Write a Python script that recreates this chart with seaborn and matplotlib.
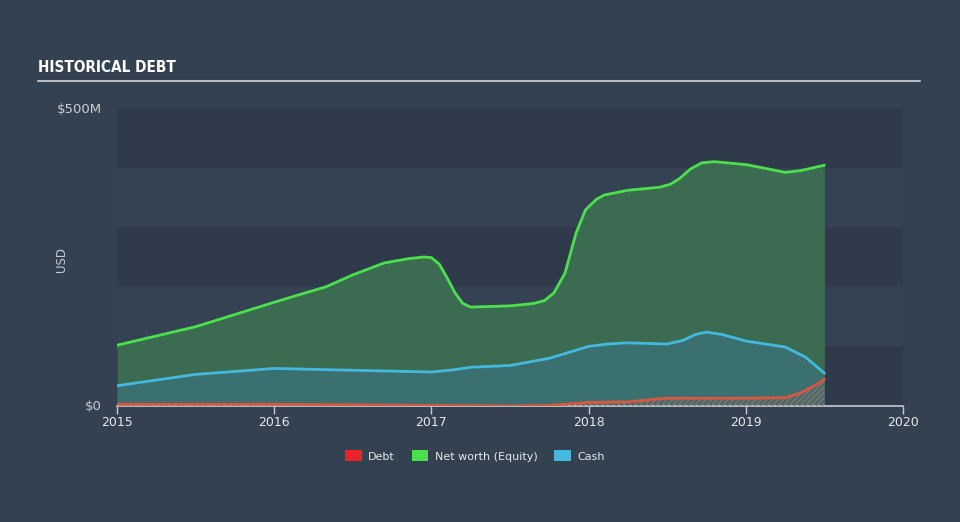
import matplotlib
matplotlib.use("Agg")
import matplotlib.pyplot as plt
import seaborn as sns
import pandas as pd
from matplotlib.patches import Patch

# ---- data (values in $M) ----
nw_x = [2015.0, 2015.5, 2016.0, 2016.15, 2016.33, 2016.5, 2016.7, 2016.85, 2016.95, 2017.0,
        2017.05, 2017.1, 2017.15, 2017.2, 2017.25,
        2017.5, 2017.65, 2017.72, 2017.78, 2017.85, 2017.92, 2017.98, 2018.05, 2018.1,
        2018.25, 2018.45, 2018.52, 2018.58, 2018.65, 2018.72, 2018.8, 2019.0, 2019.1,
        2019.25, 2019.35, 2019.5]
nw_y = [102, 133, 174, 186, 200, 220, 240, 247, 250, 249,
        238, 215, 190, 172, 166,
        168, 172, 177, 190, 223, 290, 329, 347, 354,
        362, 367, 372, 382, 398, 408, 410, 405, 400,
        392, 395, 404]

cash_x = [2015.0, 2015.5, 2016.0, 2016.5, 2017.0, 2017.15, 2017.25, 2017.5, 2017.75, 2017.9,
          2018.0, 2018.12, 2018.25, 2018.5, 2018.6, 2018.68, 2018.75, 2018.85, 2019.0,
          2019.25, 2019.38, 2019.5]
cash_y = [34, 53, 63, 60, 57, 61, 65, 68, 80, 92,
          100, 104, 106, 104, 110, 120, 124, 120, 109,
          99, 82, 55]

debt_x = [2015.0, 2016.0, 2016.5, 2017.0, 2017.5, 2017.75, 2018.0, 2018.25, 2018.45,
          2018.5, 2019.0, 2019.25, 2019.35, 2019.45, 2019.5]
debt_y = [3, 3, 2, 1, 0, 1, 6, 7, 12,
          13, 13, 14, 22, 36, 45]

series_names = ["Debt", "Net worth (Equity)", "Cash"]
series_colors = ["#e8262a", "#4ce04c", "#45b8dd"]
year_ticks = [2015, 2016, 2017, 2018, 2019, 2020]

BG = "#344151"
sns.set_theme(style="dark")
plt.rcParams["font.family"] = ["DejaVu Sans"]

fig = plt.figure(figsize=(9.6, 5.22), dpi=100, facecolor=BG)
ax = fig.add_axes([117/960, (522-406)/522, (903-117)/960, 298/522])
ax.set_facecolor("#324052")

# horizontal bands
for i in range(5):
    col = "#2f3b4b" if i % 2 == 0 else "#344253"
    ax.axhspan(i*100, (i+1)*100, color=col, zorder=0, lw=0)

df_nw = pd.DataFrame({"x": nw_x, "y": nw_y})
df_cash = pd.DataFrame({"x": cash_x, "y": cash_y})
df_debt = pd.DataFrame({"x": debt_x, "y": debt_y})

ax.fill_between(df_nw.x, 0, df_nw.y, color="#3b6b50", lw=0, zorder=1)
ax.fill_between(df_cash.x, 0, df_cash.y, color="#3a7070", lw=0, zorder=2)
ax.fill_between(df_debt.x, 0, df_debt.y, facecolor="none", edgecolor="#9a6a60",
                hatch="//////", lw=0, zorder=3)

sns.lineplot(data=df_nw, x="x", y="y", ax=ax, color="#4ce04c", lw=2, zorder=5)
sns.lineplot(data=df_cash, x="x", y="y", ax=ax, color="#45b8dd", lw=2, zorder=5)
sns.lineplot(data=df_debt, x="x", y="y", ax=ax, color="#d9573e", lw=2, zorder=6)

ax.set_xlim(2015, 2020)
ax.set_ylim(0, 500)
ax.set_xlabel("")
ax.set_ylabel("")
ax.grid(False)
for s in ["top", "right", "left"]:
    ax.spines[s].set_visible(False)
ax.spines["bottom"].set_color("#c8ccd2")
ax.spines["bottom"].set_linewidth(1.2)
ax.set_xticks(year_ticks)
ax.set_xticklabels([str(y) for y in year_ticks], color="#e6e8eb", fontsize=9)
ax.tick_params(axis="x", direction="out", length=6, width=1, color="#c8ccd2", pad=1,
               bottom=True)
ax.set_yticks([2, 500])
ax.set_yticklabels(["$0", "$500M"], color="#c8ccd2", fontsize=9.5)
ax.tick_params(axis="y", length=0, pad=11)

fig.text(62/960, 1-260/522, "USD", rotation=90, color="#c8ccd2", fontsize=8.5,
         ha="center", va="center")

fig.text(38/960, 1-68/522, "HISTORICAL DEBT", color="white", fontsize=11,
         fontweight="bold", fontstretch="condensed",
         family=["DejaVu Sans"], ha="left", va="center")
fig.add_artist(plt.Line2D([38/960, 920/960], [1-81/522, 1-81/522],
                          color="#b9bec6", lw=1.5, transform=fig.transFigure))

handles = [Patch(facecolor=c, edgecolor="none") for c in series_colors]
leg = fig.legend(handles, series_names, loc="center", bbox_to_anchor=(475/960, 1-456/522),
                 ncol=3, frameon=False, fontsize=8, handlelength=1.5, handleheight=1.1,
                 columnspacing=1.5, handletextpad=0.6)
for t in leg.get_texts():
    t.set_color("#e6e8eb")

fig.savefig("out.png", dpi=100, facecolor=BG)
